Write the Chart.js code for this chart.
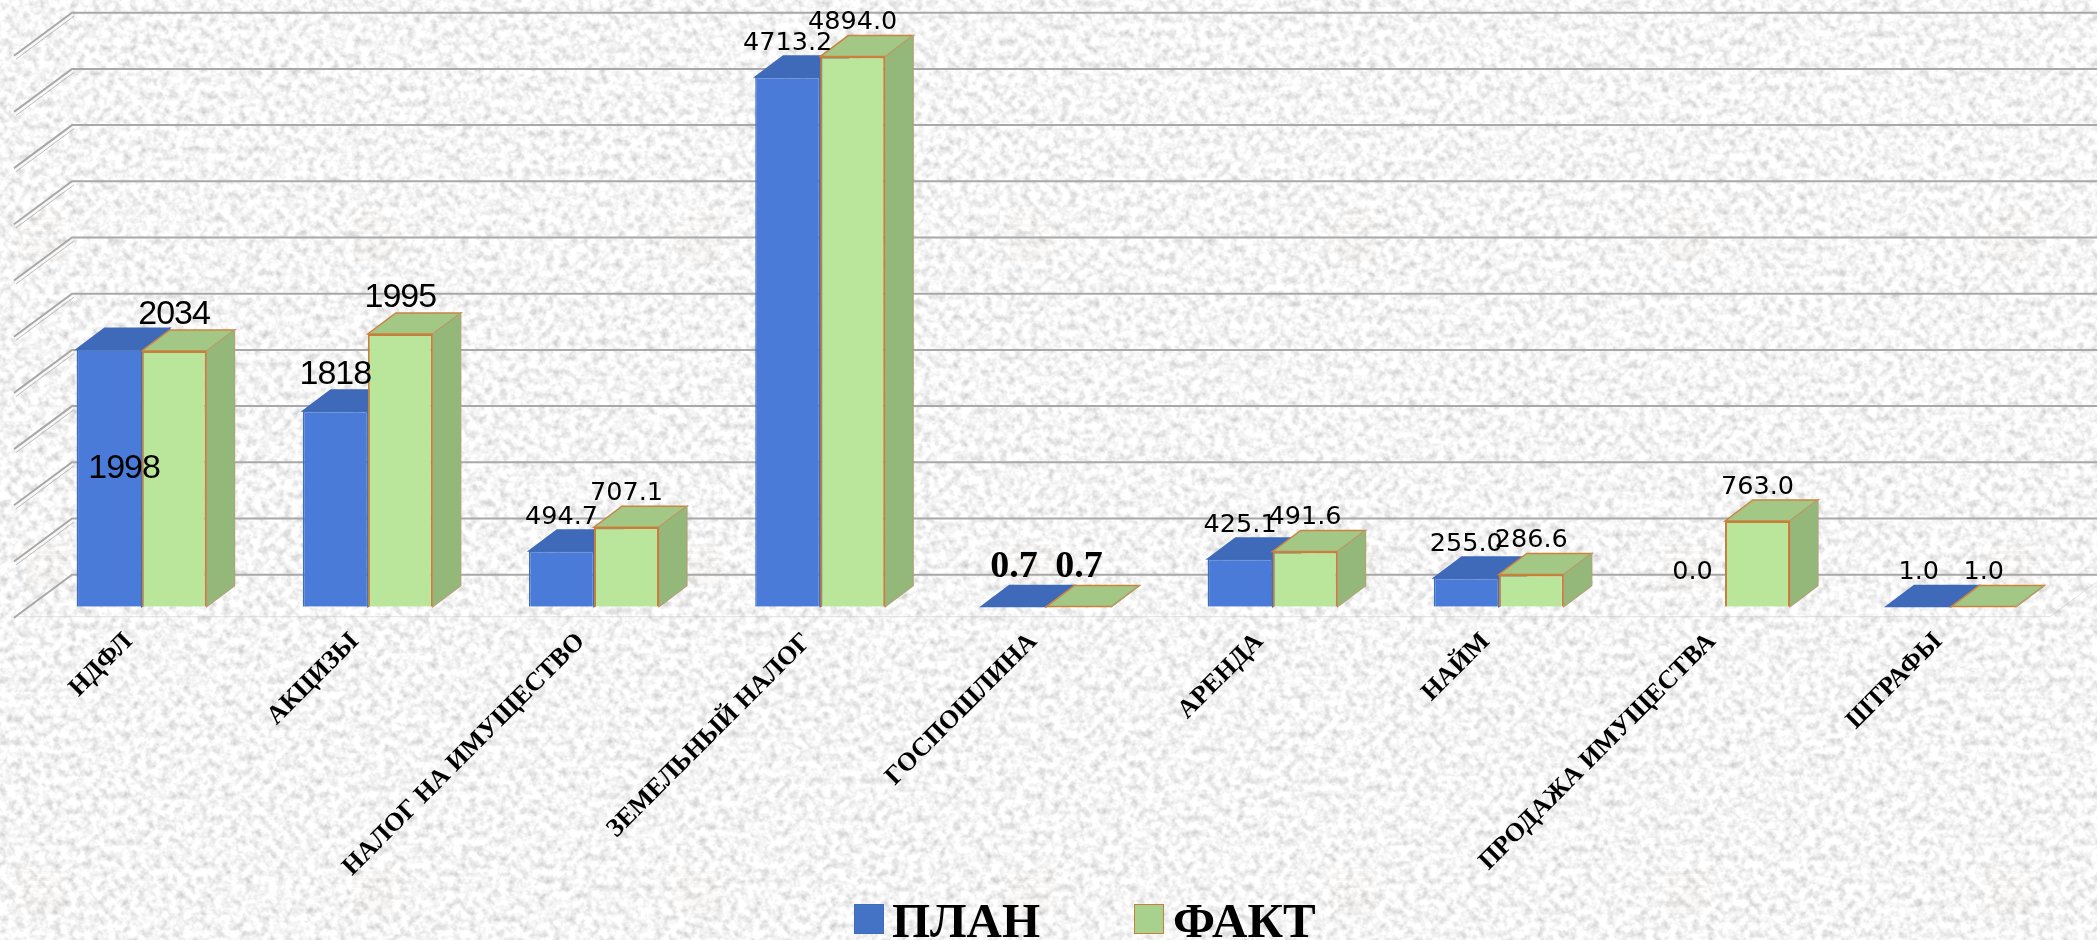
<!DOCTYPE html>
<html lang="ru">
<head>
<meta charset="utf-8">
<title>План и факт</title>
<script src="https://cdn.jsdelivr.net/npm/chart.js@4"></script>
<style>
    html, body { margin: 0; padding: 0; background: #ececec; overflow: hidden; }
    #wrap { position: relative; width: 2097px; height: 940px; overflow: hidden; }
    #texture { position: absolute; left: 0; top: 0; }
    #chart { position: absolute; left: 0; top: 0; }
    #legend { position: absolute; left: 0; top: 0; font: bold 49px "Liberation Serif", serif; color: #000; }
    #legend span { position: absolute; white-space: nowrap; line-height: 49px; }
    #legend i { position: absolute; width: 30px; height: 30px; box-sizing: border-box; border: 1.5px solid; }
</style>
</head>
<body>
<div id="wrap">
    <svg id="texture" width="2097" height="940">
        <defs>
            <filter id="marble" x="0" y="0" width="100%" height="100%">
                <feTurbulence type="fractalNoise" baseFrequency="0.13" numOctaves="3" seed="7"/>
                <feColorMatrix type="matrix" values="0.75 0 0 0 0.54  0.75 0 0 0 0.54  0.75 0 0 0 0.54  0 0 0 0 1"/>
            </filter>
            <pattern id="mark" x="24" y="217" width="328" height="327" patternUnits="userSpaceOnUse">
                <rect x="0" y="0" width="42" height="3" fill="#c9a27a" opacity="0.07"/>
                <rect x="0" y="7" width="42" height="3" fill="#c9a27a" opacity="0.07"/>
                <rect x="0" y="14" width="42" height="3" fill="#c9a27a" opacity="0.07"/>
                <rect x="2" y="22" width="38" height="22" fill="#c9a27a" opacity="0.05"/>
            </pattern>
        </defs>
        <rect width="2097" height="940" filter="url(#marble)"/>
        <rect width="2097" height="940" fill="url(#mark)"/>
    </svg>
    <canvas id="chart" width="2097" height="940"></canvas>
    <div id="legend"></div>
</div>
<script>
const categories = ['НДФЛ', 'АКЦИЗЫ', 'НАЛОГ НА ИМУЩЕСТВО', 'ЗЕМЕЛЬНЫЙ НАЛОГ', 'ГОСПОШЛИНА', 'АРЕНДА', 'НАЙМ', 'ПРОДАЖА ИМУЩЕСТВА', 'ШТРАФЫ'];

// bar heights as measured, the first two groups are drawn taller/shorter than their printed labels
const planValues = [2290, 1741, 494.7, 4713.2, 0.7, 425.1, 255, 0, 1];
const factValues = [2275, 2426, 707.1, 4894, 0.7, 491.6, 286.6, 763, 1];

// printed labels
const planLabels = ['1998', '1818', '494.7', '4713.2', '0.7', '425.1', '255.0', '0.0', '1.0'];
const factLabels = ['2034', '1995', '707.1', '4894.0', '0.7', '491.6', '286.6', '763.0', '1.0'];

const axisTicks = [0, 500, 1000, 1500, 2000, 2500, 3000, 3500, 4000, 4500, 5000];

const DEPTH_X = 28;
const DEPTH_Y = 21;
const WALL_X = 58;
const WALL_Y = 43;
const WALL_LEFT = 72;
const WALL_SHIFT = 32; // back wall sits this far above the front of the bars

function labelFont(text) {
    if (text === '0.7') return { font: 'bold 38px "Liberation Serif"', spacing: '0px', lift: 39 };
    if (['1998', '1818', '2034', '1995'].includes(text)) return { font: '34px "Liberation Sans"', spacing: '-1px', lift: 36 };
    return { font: '25.5px "DejaVu Sans"', spacing: '0px', lift: 34 };
}

function face(ctx, pts, fill, stroke, width) {
    ctx.beginPath();
    pts.forEach((p, i) => i ? ctx.lineTo(p[0], p[1]) : ctx.moveTo(p[0], p[1]));
    ctx.closePath();
    ctx.fillStyle = fill;
    ctx.fill();
    ctx.strokeStyle = stroke;
    ctx.lineWidth = width;
    ctx.stroke();
}

const wallPlugin = {
    id: 'wall',
    beforeDatasetsDraw(chart) {
        const ctx = chart.ctx;
        const y = chart.scales.y;
        const floorY = y.getPixelForValue(0) + 10;

        ctx.save();
        // floor edge
        ctx.strokeStyle = 'rgba(190,190,190,0.45)';
        ctx.lineWidth = 1;
        ctx.beginPath();
        ctx.moveTo(WALL_LEFT - WALL_X, floorY);
        ctx.lineTo(2050, floorY);
        ctx.lineTo(2097, floorY - 35);
        ctx.stroke();

        axisTicks.forEach(t => {
            const py = y.getPixelForValue(t) - WALL_SHIFT;
            if (t > 0) {
                // raised edge on the side wall, a light line inside two grey ones
                ctx.strokeStyle = '#f8f8f8';
                ctx.lineWidth = 2;
                ctx.beginPath();
                ctx.moveTo(WALL_LEFT - WALL_X + 1, py + WALL_Y + 1.5);
                ctx.lineTo(WALL_LEFT + 1, py + 1.5);
                ctx.stroke();
                ctx.strokeStyle = '#bcbcbc';
                ctx.lineWidth = 1;
                ctx.beginPath();
                ctx.moveTo(WALL_LEFT - WALL_X + 2, py + WALL_Y + 3.5);
                ctx.lineTo(WALL_LEFT + 2, py + 3.5);
                ctx.stroke();
            }
            ctx.strokeStyle = '#a8a8a8';
            ctx.lineWidth = 2;
            ctx.beginPath();
            ctx.moveTo(WALL_LEFT - WALL_X, py + WALL_Y);
            ctx.lineTo(WALL_LEFT, py);
            ctx.lineTo(2097, py);
            ctx.stroke();
        });

        // top and side faces of the boxes, the fronts are the chart's own bars
        chart.data.datasets.forEach((ds, di) => {
            chart.getDatasetMeta(di).data.forEach((bar, i) => {
                if (!ds.data[i]) return;
                const l = bar.x - bar.width / 2;
                const r = bar.x + bar.width / 2;
                const t = bar.y;
                const b = bar.base;
                face(ctx, [[l, t], [r, t], [r + DEPTH_X, t - DEPTH_Y], [l + DEPTH_X, t - DEPTH_Y]], ds.topColor, ds.edgeColor, 1.5);
                face(ctx, [[r, t], [r + DEPTH_X, t - DEPTH_Y], [r + DEPTH_X, b - DEPTH_Y], [r, b]], ds.sideColor, ds.sideEdge, 1.2);
            });
        });
        ctx.restore();
    },
    afterDatasetsDraw(chart) {
        const ctx = chart.ctx;
        ctx.save();
        ctx.textAlign = 'center';
        ctx.textBaseline = 'middle';
        ctx.fillStyle = '#000';
        chart.data.datasets.forEach((ds, di) => {
            chart.getDatasetMeta(di).data.forEach((bar, i) => {
                const text = ds.printed[i];
                const f = labelFont(text);
                ctx.font = f.font;
                ctx.letterSpacing = f.spacing;
                if (text === '1998') {
                    // this one was moved by hand into the bar in the original
                    ctx.fillText(text, bar.x + 15, bar.y + 119);
                } else {
                    ctx.fillText(text, bar.x, bar.y - f.lift);
                }
            });
        });
        ctx.restore();
    }
};

const chart = new Chart(document.getElementById('chart').getContext('2d'), {
    type: 'bar',
    data: {
        labels: categories,
        datasets: [
            {
                label: 'ПЛАН',
                data: planValues,
                printed: planLabels,
                backgroundColor: '#4a7bd8',
                borderColor: '#3f6db8',
                borderWidth: 1.5,
                topColor: '#3f69b9',
                sideColor: '#3f69b9',
                edgeColor: '#3f69b9',
                sideEdge: '#3f69b9',
                swatch: '#4472c4'
            },
            {
                label: 'ФАКТ',
                data: factValues,
                printed: factLabels,
                backgroundColor: '#bae69b',
                borderColor: '#c77f3c',
                borderWidth: 2,
                topColor: '#a3c886',
                sideColor: '#94b87a',
                edgeColor: '#c9843f',
                sideEdge: '#b0a277',
                swatch: '#a9d18e'
            }
        ]
    },
    options: {
        responsive: false,
        animation: false,
        layout: { padding: { left: 28.5, right: 32.7, top: 44.7, bottom: 0 } },
        datasets: { bar: { categoryPercentage: 0.5746, barPercentage: 1 } },
        plugins: { legend: { display: false }, tooltip: { enabled: false } },
        scales: {
            x: {
                afterFit(scale) { scale.height = 333.3; },
                grid: { display: false },
                border: { display: false },
                ticks: {
                    autoSkip: false,
                    minRotation: 45,
                    maxRotation: 45,
                    padding: 12,
                    labelOffset: -13,
                    color: '#000',
                    font: { family: '"Liberation Serif"', size: 26, weight: 'bold' }
                }
            },
            y: {
                display: false,
                min: 0,
                max: 5000,
                ticks: { stepSize: 500 }
            }
        }
    },
    plugins: [wallPlugin]
});

// legend laid out by hand, the built-in one puts too big a gap next to the box
const legendPos = [{ box: 854, text: 892 }, { box: 1134, text: 1173 }];
chart.data.datasets.forEach((ds, i) => {
    const box = document.createElement('i');
    box.style.left = legendPos[i].box + 'px';
    box.style.top = '904px';
    box.style.background = ds.swatch;
    box.style.borderColor = ds.borderColor;
    const span = document.createElement('span');
    span.textContent = ds.label;
    span.style.left = legendPos[i].text + 'px';
    span.style.top = '896px';
    document.getElementById('legend').append(box, span);
});
</script>
</body>
</html>
